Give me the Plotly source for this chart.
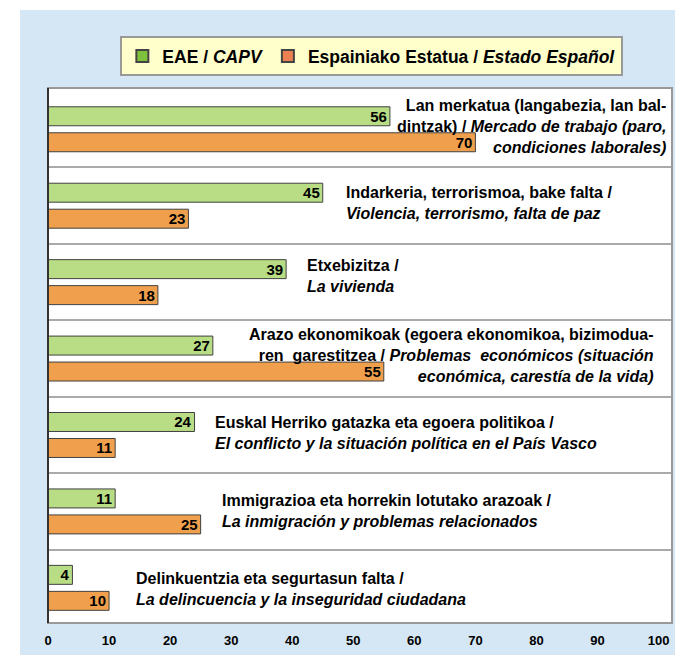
import plotly.graph_objects as go

categories = [
    "Lan merkatua", "Indarkeria", "Etxebizitza", "Arazo ekonomikoak",
    "Euskal Herriko gatazka", "Immigrazioa", "Delinkuentzia",
]
eae = [56, 45, 39, 27, 24, 11, 4]
estado = [70, 23, 18, 55, 11, 25, 10]
series_names = ["<b>EAE / <i>CAPV</i></b>", "<b>Espainiako Estatua / <i>Estado Español</i></b>"]
labels = [
    "<b>Lan merkatua (langabezia, lan bal-<br>dintzak) / <i>Mercado de trabajo (paro,</i><br><i>condiciones laborales)</i></b>",
    "<b>Indarkeria, terrorismoa, bake falta /<br><i>Violencia, terrorismo, falta de paz</i></b>",
    "<b>Etxebizitza /<br><i>La vivienda</i></b>",
    "<b>Arazo ekonomikoak (egoera ekonomikoa, bizimodua-<br>ren  garestitzea / <i>Problemas  económicos (situación</i><br><i>económica, carestía de la vida)</i></b>",
    "<b>Euskal Herriko gatazka eta egoera politikoa /<br><i>El conflicto y la situación política en el País Vasco</i></b>",
    "<b>Immigrazioa eta horrekin lotutako arazoak /<br><i>La inmigración y problemas relacionados</i></b>",
    "<b>Delinkuentzia eta segurtasun falta /<br><i>La delincuencia y la inseguridad ciudadana</i></b>",
]
# label anchor positions (x in axis units, anchor side, vertical nudge)
label_x = [101.5, 48.4, 42.1, 99.5, 27.0, 28.2, 14.1]
label_anchor = ["right", "left", "left", "right", "left", "left", "left"]
label_dy = [-0.04, -0.03, -0.08, -0.04, -0.03, 0.0, 0.02]
x_ticks = list(range(0, 101, 10))

FONT = "Liberation Sans, Arial, sans-serif"
bar_colors = ["#b8dd84", "#f0a04c"]
legend_colors = ["#7dc23a", "#ec8050"]

ypos = list(range(len(categories)))

fig = go.Figure()
for vals, col in zip([eae, estado], bar_colors):
    fig.add_trace(go.Bar(
        y=ypos, x=vals, orientation="h",
        marker=dict(color=col, line=dict(color="#404040", width=1)),
        text=[f"<b>{v}</b>" for v in vals], textposition="inside",
        insidetextanchor="end", textfont=dict(color="black", size=15, family=FONT),
        textangle=0, showlegend=False, cliponaxis=False,
    ))
for name, col in zip(series_names, legend_colors):
    fig.add_trace(go.Scatter(
        x=[None], y=[None], mode="markers", name=name,
        marker=dict(symbol="square", size=13, color=col, line=dict(color="#444444", width=1)),
    ))

for i, (lab, lx, la, dy) in enumerate(zip(labels, label_x, label_anchor, label_dy)):
    fig.add_annotation(
        x=lx, y=i + dy, xref="x", yref="y", text=lab, showarrow=False,
        xanchor=la, yanchor="middle", align=la,
        font=dict(size=16, color="black", family=FONT),
    )

# blue background panel (white strip on left and top), then white plot area
fig.add_shape(type="rect", xref="paper", yref="paper", x0=-0.0449, x1=1.05, y0=-0.1, y1=1.1458,
              fillcolor="#d5e6f4", line=dict(width=0), layer="below")
fig.add_shape(type="rect", xref="paper", yref="paper", x0=0, x1=1, y0=0, y1=1,
              fillcolor="white", line=dict(width=0), layer="below")
# plot frame
fig.add_shape(type="rect", xref="paper", yref="paper", x0=0, x1=1, y0=0, y1=1,
              line=dict(color="#999999", width=2), layer="above")
fig.add_shape(type="line", xref="paper", yref="paper", x0=0, x1=0, y0=0, y1=1,
              line=dict(color="#333333", width=2), layer="above")

fig.update_layout(
    width=675, height=655,
    paper_bgcolor="white", plot_bgcolor="rgba(0,0,0,0)",
    margin=dict(l=48, r=3, t=88, b=32),
    barmode="group", bargap=0.32, bargroupgap=0.27,
    uniformtext=dict(minsize=15, mode="show"),
    font=dict(family=FONT, color="black"),
    legend=dict(
        orientation="h", x=0.519, y=1.097, xanchor="center", yanchor="top",
        bgcolor="#ffffcc", bordercolor="#999999", borderwidth=2,
        font=dict(size=17.5, color="black", family=FONT),
        itemsizing="constant",
    ),
    xaxis=dict(
        range=[0, 102.2], tickvals=x_ticks, ticktext=[f"<b>{t}</b>" for t in x_ticks],
        showgrid=False, zeroline=False, showline=False, ticks="",
        tickfont=dict(size=13, family=FONT), ticklabelstandoff=8,
    ),
    yaxis=dict(
        range=[len(categories) - 0.54, -0.54],
        tickvals=[i + 0.5 for i in range(len(categories) - 1)],
        showticklabels=False, showgrid=True, gridcolor="#aaaaaa", gridwidth=1.5,
        zeroline=False, showline=False, ticks="",
    ),
)

fig.write_html(
    "out.html",
    config={"displayModeBar": False},
    post_script="document.body.style.margin='0';document.body.style.overflow='hidden';",
)
